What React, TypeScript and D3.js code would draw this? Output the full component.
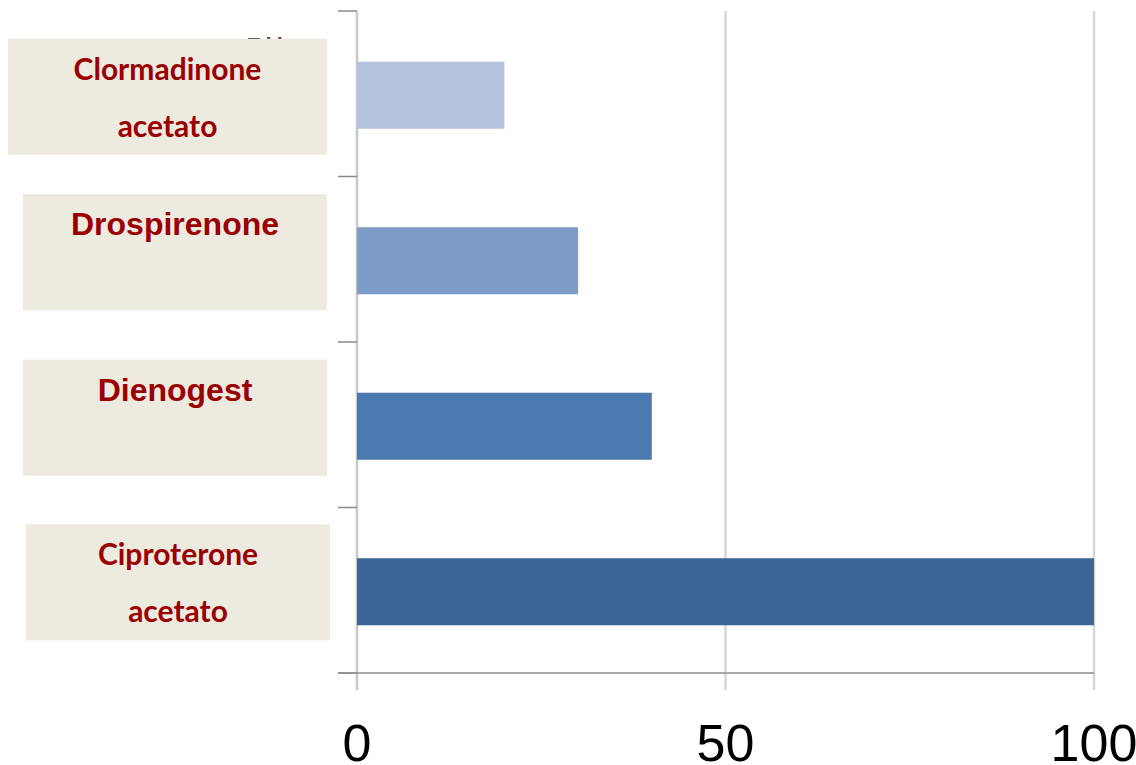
import React from "react";
import * as d3 from "d3";

const categories = ["Clormadinone acetato", "Drospirenone", "Dienogest", "Ciproterone acetato"];
const values = [20, 30, 40, 100];
const barColors = ["#B4C3DD", "#7E9CC8", "#4A7AB0", "#3D6596"];
const xTicks = [0, 50, 100];
const labelLines = [["Clormadinone", "acetato"], ["Drospirenone"], ["Dienogest"], ["Ciproterone", "acetato"]];

// layout of the annotation boxes (left edge, right edge, vertical offset from band centre, font)
const boxLayout = [
  { x0: 8, x1: 327, dy: 3, font: "Lato", size: 30 },
  { x0: 23, x1: 327, dy: -7, font: "Liberation Sans", size: 32 },
  { x0: 23, x1: 327, dy: -7, font: "Liberation Sans", size: 32 },
  { x0: 26, x1: 330, dy: -8, font: "Lato", size: 30 },
];

const W = 1136;
const H = 765;

export default function App() {
  const x = d3.scaleLinear().domain([0, 100]).range([357, 1094]);
  const y = d3.scaleBand<string>().domain(categories).range([11, 673]).paddingInner(0.595).paddingOuter(0.2975);
  const step = y.step();
  const boundaries = d3.range(categories.length + 1).map((i) => 11 + i * step);
  const gridBottom = 690;
  const boxH = 116;

  return (
    <svg width={W} height={H} style={{ position: "absolute", left: 0, top: 0, background: "#fff" }}>
      {/* gridlines */}
      {xTicks.filter((t) => t > 0).map((t) => (
        <line key={"g" + t} x1={x(t)} x2={x(t)} y1={11} y2={gridBottom} stroke="#D6D6D6" strokeWidth={2.5} />
      ))}
      {/* value axis line (vertical at 0) */}
      <line x1={x(0)} x2={x(0)} y1={11} y2={gridBottom} stroke="#C8C8C8" strokeWidth={2.5} />
      {/* category ticks */}
      {boundaries.map((b, i) => (
        <line key={"t" + i} x1={338} x2={x(0)} y1={b} y2={b} stroke="#8A8A8A" strokeWidth={1.5} />
      ))}
      {/* bottom axis line */}
      <line x1={338} x2={x(100)} y1={boundaries[boundaries.length - 1]} y2={boundaries[boundaries.length - 1]} stroke="#8E8E8E" strokeWidth={1.5} />
      {/* bars */}
      {categories.map((c, i) => (
        <rect key={c} x={x(0)} y={y(c)! + 1.5} width={x(values[i]) - x(0)} height={y.bandwidth()} fill={barColors[i]} />
      ))}
      {/* x tick labels */}
      {xTicks.map((t) => (
        <text key={"xl" + t} x={x(t)} y={761} textAnchor="middle" fontFamily="Liberation Sans" fontSize={52} fill="#000">
          {t}
        </text>
      ))}
      {/* partially hidden original label */}
      <text x={248} y={52} fontFamily="Liberation Sans" fontWeight="bold" fontSize={20} fill="#333">T  i  i</text>
      {/* annotation boxes */}
      {categories.map((c, i) => {
        const L = boxLayout[i];
        const cy = y(c)! + y.bandwidth() / 2 + L.dy;
        const top = cy - boxH / 2;
        const cx = (L.x0 + L.x1) / 2;
        return (
          <g key={"b" + c}>
            <rect x={L.x0} y={top} width={L.x1 - L.x0} height={boxH} fill="#EDEAE0" />
            {labelLines[i].map((ln, j) => (
              <text key={j} x={cx} y={top + 41 + j * 57} textAnchor="middle" fontFamily={L.font} fontWeight="bold" fontSize={L.size} fill="#9B0000">
                {ln}
              </text>
            ))}
          </g>
        );
      })}
    </svg>
  );
}
